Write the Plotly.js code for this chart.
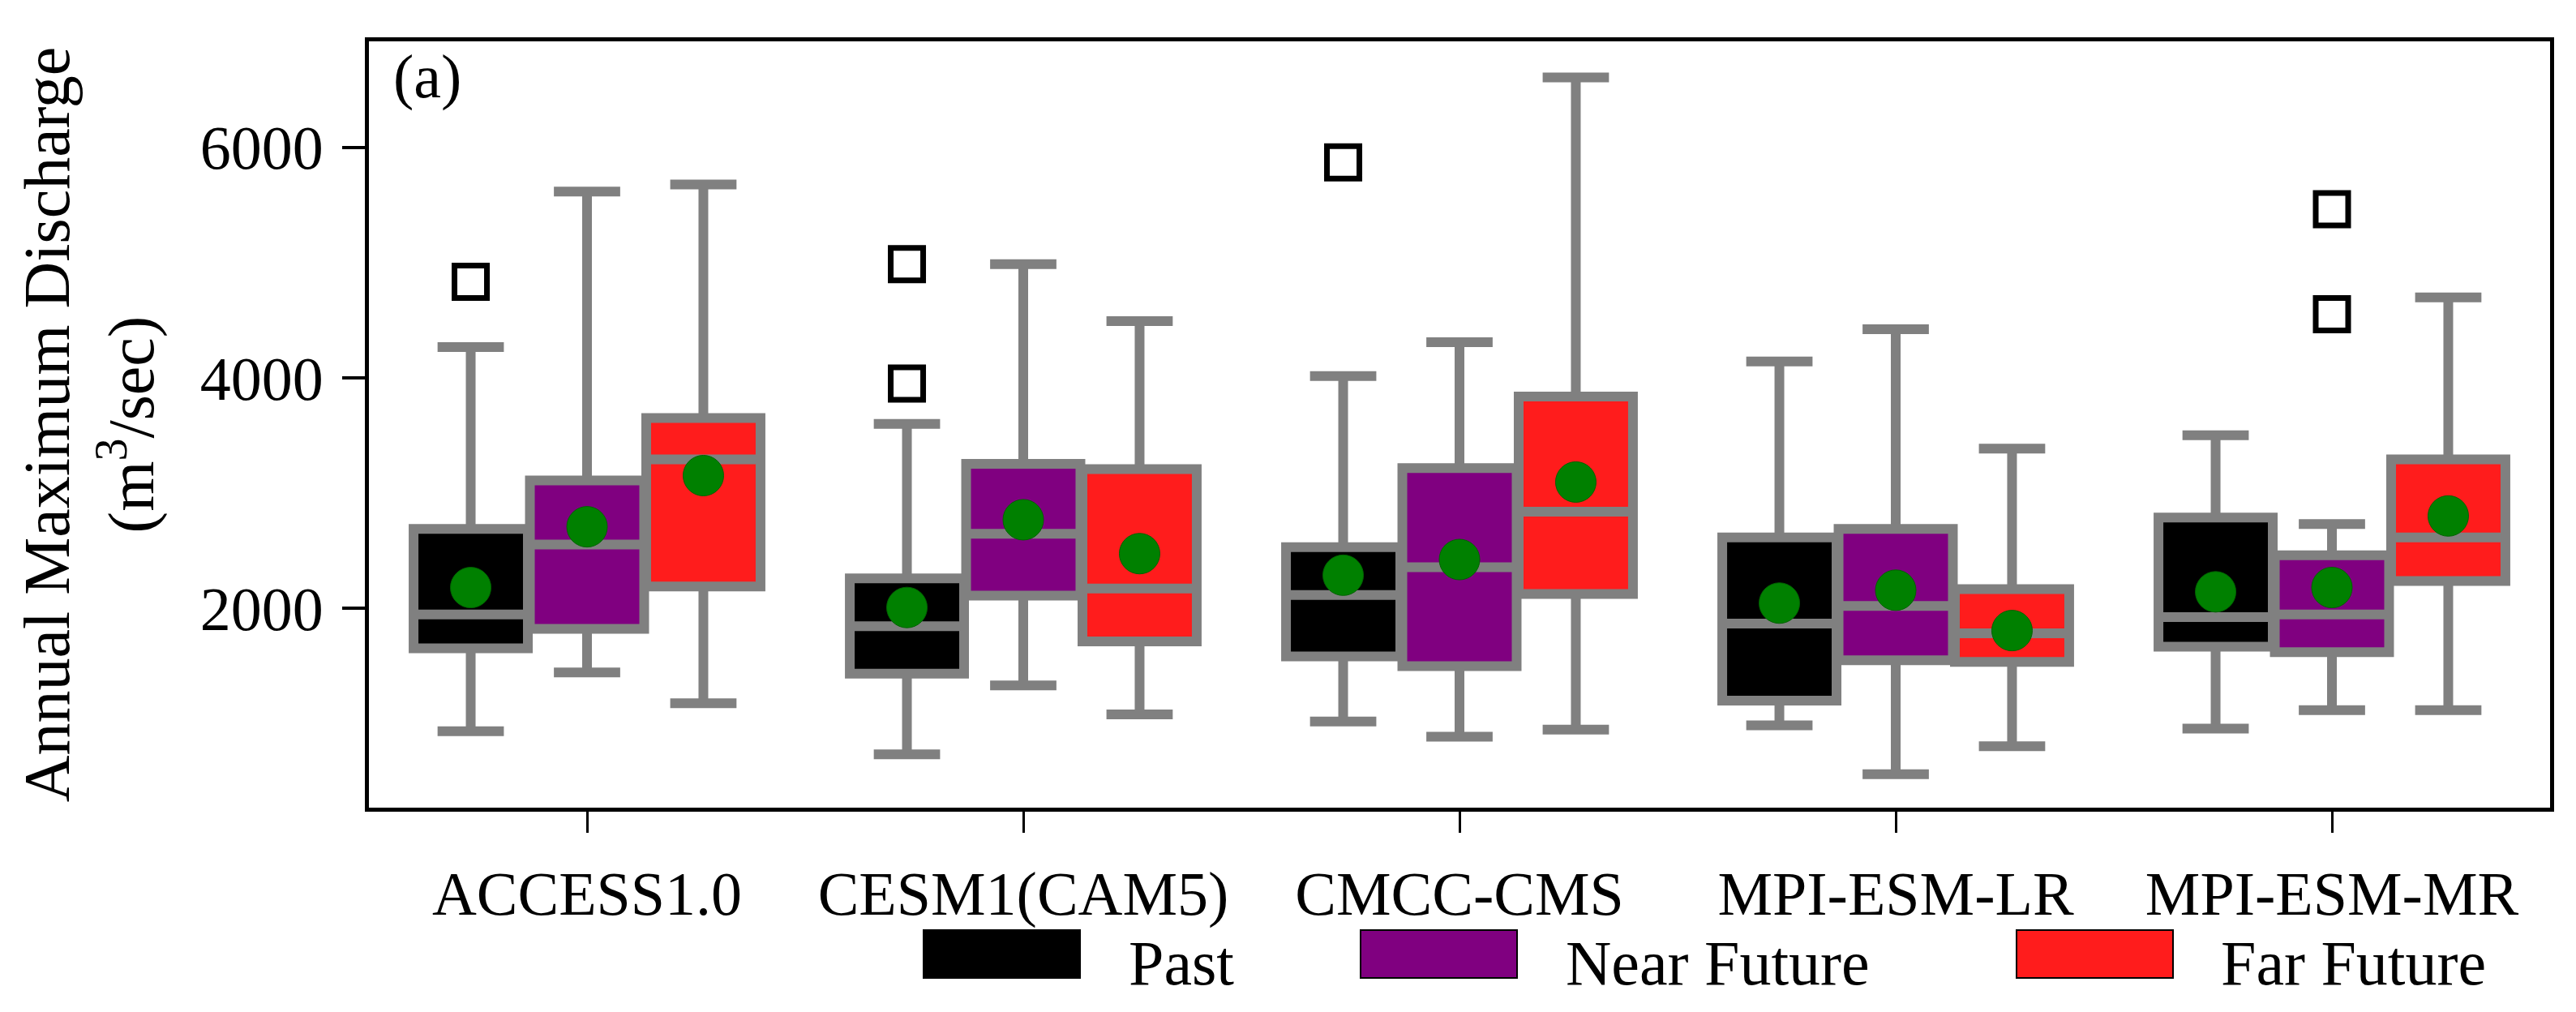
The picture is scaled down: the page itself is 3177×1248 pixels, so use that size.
<!DOCTYPE html>
<html><head><meta charset="utf-8">
<script src="https://cdn.plot.ly/plotly-3.0.1.min.js"></script>
<style>html,body{margin:0;padding:0;background:#fff}#chart{width:3177px;height:1248px}</style>
</head><body><div id="chart"></div>
<script>
// ---- data ----
const models = ['ACCESS1.0', 'CESM1(CAM5)', 'CMCC-CMS', 'MPI-ESM-LR', 'MPI-ESM-MR'];
const periods = ['Past', 'Near Future', 'Far Future'];

const pastQ1     = [1655, 1435, 1585, 1202, 1669];
const pastMedian = [1949, 1846, 2117, 1869, 1925];
const pastQ3     = [2691, 2261, 2532, 2616, 2789];
const pastLow    = [936, 735, 1020, 987, 959];
const pastHigh   = [4268, 3601, 4016, 4142, 3503];
const pastMean   = [2182, 2009, 2289, 2047, 2145];

const nearQ1     = [1823, 2112, 1501, 1552, 1622];
const nearMedian = [2555, 2649, 2359, 2023, 1949];
const nearQ3     = [3111, 3255, 3218, 2691, 2462];
const nearLow    = [1445, 1333, 889, 563, 1118];
const nearHigh   = [5617, 4987, 4310, 4422, 2733];
const nearMean   = [2709, 2770, 2425, 2159, 2182];

const farQ1      = [2191, 1715, 2126, 1538, 2238];
const farMedian  = [3293, 2173, 2840, 1785, 2616];
const farQ3      = [3652, 3209, 3839, 2168, 3293];
const farLow     = [1179, 1081, 950, 805, 1118];
const farHigh    = [5678, 4492, 6606, 3386, 4698];
const farMean    = [3153, 2476, 3097, 1809, 2803];

const outlierModel  = ['ACCESS1.0', 'CESM1(CAM5)', 'CESM1(CAM5)', 'CMCC-CMS', 'MPI-ESM-MR', 'MPI-ESM-MR'];
const outlierPeriod = ['Past', 'Past', 'Past', 'Past', 'Near Future', 'Near Future'];
const outlierValue  = [4833, 4987, 3951, 5869, 5463, 4553];

const yTickVals = [2000, 4000, 6000];
const yRange = [273, 6919];

// ---- styling / layout ----
const W = 3177, H = 1248;
const M = {l: 455, r: 32, t: 51, b: 252};
const plotW = W - M.l - M.r, plotH = H - M.t - M.b;
const px = x => (x - M.l) / plotW;
const py = y => (H - M.b - y) / plotH;
const FONT = 'Liberation Serif';
const fillColors = ['#000000', '#800080', '#ff1c1c'];
const edge = '#808080';
const step = 0.8 / 3;
const boxW = 0.262;
const offsets = periods.map((p, i) => (i - 1) * step);

const stats = [
  {q1: pastQ1, med: pastMedian, q3: pastQ3, lo: pastLow, hi: pastHigh, mean: pastMean},
  {q1: nearQ1, med: nearMedian, q3: nearQ3, lo: nearLow, hi: nearHigh, mean: nearMean},
  {q1: farQ1, med: farMedian, q3: farQ3, lo: farLow, hi: farHigh, mean: farMean}
];

const traces = [];
periods.forEach((p, k) => {
  const s = stats[k];
  traces.push({
    type: 'box', name: p, orientation: 'v',
    x: models.map((m, i) => i + offsets[k]),
    q1: s.q1, median: s.med, q3: s.q3, lowerfence: s.lo, upperfence: s.hi,
    width: boxW, whiskerwidth: 0.58, boxpoints: false,
    fillcolor: fillColors[k], line: {color: edge, width: 12},
    showlegend: false, hoverinfo: 'skip'
  });
});
// outliers
periods.forEach((p, k) => {
  const idx = outlierPeriod.map((q, j) => q === p ? j : -1).filter(j => j >= 0);
  if (!idx.length) return;
  traces.push({
    type: 'scatter', mode: 'markers',
    x: idx.map(j => models.indexOf(outlierModel[j]) + offsets[k]),
    y: idx.map(j => outlierValue[j]),
    marker: {symbol: 'square-open', size: 40, color: '#000', line: {width: 7, color: '#000'}},
    showlegend: false, hoverinfo: 'skip'
  });
});
// means
periods.forEach((p, k) => {
  traces.push({
    type: 'scatter', mode: 'markers',
    x: models.map((m, i) => i + offsets[k]),
    y: stats[k].mean,
    marker: {symbol: 'circle', size: 50, color: '#008000', line: {width: 1, color: '#006400'}},
    showlegend: false, hoverinfo: 'skip'
  });
});

// legend built from shapes + annotations
const legPatchX = [1139, 1678, 2487];
const legPatchW = 193;
const legTextX = [1391, 1930, 2738];
const legTop = 1147, legBot = 1206;
const shapes = periods.map((p, k) => ({
  type: 'rect', xref: 'paper', yref: 'paper',
  x0: px(legPatchX[k]), x1: px(legPatchX[k] + legPatchW),
  y0: py(legBot), y1: py(legTop),
  fillcolor: fillColors[k], line: {color: '#000', width: 2}
}));
const annotations = periods.map((p, k) => ({
  text: p, xref: 'paper', yref: 'paper', showarrow: false,
  x: px(legTextX[k]), y: py(1187), xanchor: 'left', yanchor: 'middle',
  font: {family: FONT, size: 78, color: '#000'}, borderpad: 0
}));
annotations.push({
  text: '(a)', xref: 'paper', yref: 'paper', showarrow: false,
  x: px(483), y: py(50), xanchor: 'left', yanchor: 'top',
  font: {family: FONT, size: 76, color: '#000'}
});

const layout = {
  width: W, height: H, margin: M,
  paper_bgcolor: '#fff', plot_bgcolor: '#fff',
  font: {family: FONT, color: '#000'},
  showlegend: false,
  xaxis: {
    range: [-0.5, 4.5], tickvals: models.map((m, i) => i), ticktext: models,
    ticks: 'outside', ticklen: 26, tickwidth: 3, tickcolor: '#000',
    showline: true, linewidth: 5, linecolor: '#000', mirror: true,
    showgrid: false, zeroline: false,
    tickfont: {family: FONT, size: 76, color: '#000'}, ticklabelstandoff: 10
  },
  yaxis: {
    range: yRange, tickvals: yTickVals, ticktext: yTickVals.map(String),
    ticks: 'outside', ticklen: 28, tickwidth: 4, tickcolor: '#000',
    showline: true, linewidth: 5, linecolor: '#000', mirror: true,
    showgrid: false, zeroline: false,
    tickfont: {family: FONT, size: 76, color: '#000'}, ticklabelstandoff: 8,
    title: {text: 'Annual Maximum Discharge<br>(m<sup>3</sup>/sec)', font: {family: FONT, size: 80, color: '#000'}, standoff: 32}
  },
  shapes: shapes,
  annotations: annotations
};

Plotly.newPlot('chart', traces, layout, {staticPlot: true, displayModeBar: false});
</script>
</body></html>
